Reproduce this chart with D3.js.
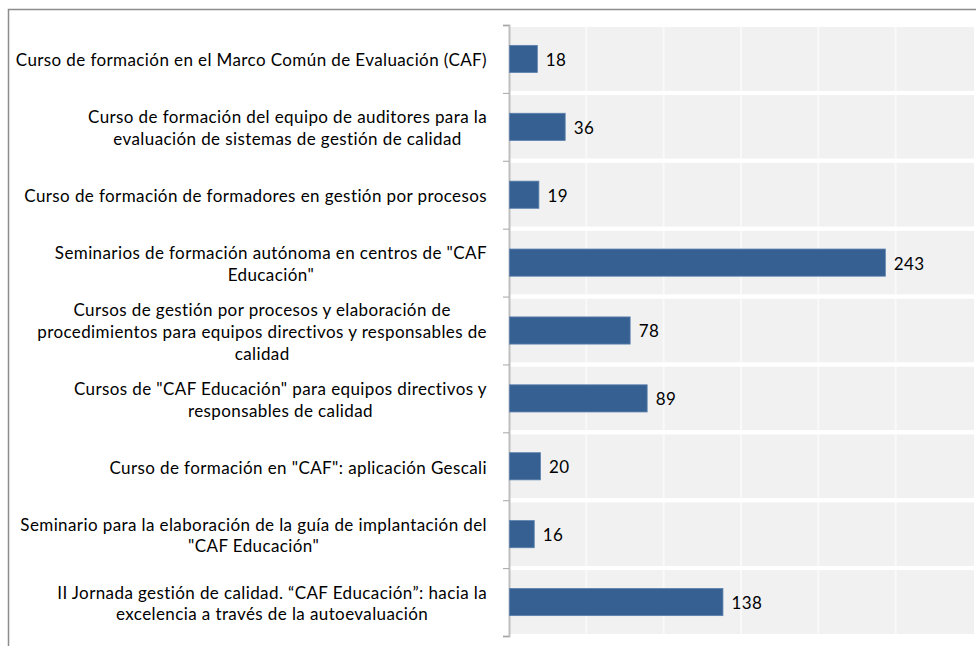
<!DOCTYPE html>
<html><head><meta charset="utf-8">
<script src="https://cdn.jsdelivr.net/npm/d3@7"></script>
<style>
html,body{margin:0;padding:0;background:#fff;}
svg{display:block;}
</style></head>
<body>
<svg id="chart" width="976" height="646"></svg>
<script>
const categories = [
  "Curso de formación en el Marco Común de Evaluación (CAF)",
  "Curso de formación del equipo de auditores para la\nevaluación de sistemas de gestión de calidad",
  "Curso de formación de formadores en gestión por procesos",
  "Seminarios de formación autónoma en centros de \"CAF\nEducación\"",
  "Cursos de gestión por procesos y elaboración de\nprocedimientos para equipos directivos y responsables de\ncalidad",
  "Cursos de \"CAF Educación\" para equipos directivos y\nresponsables de calidad",
  "Curso de formación en \"CAF\": aplicación Gescali",
  "Seminario para la elaboración de la guía de implantación del\n\"CAF Educación\"",
  "II Jornada gestión de calidad. “CAF Educación”: hacia la\nexcelencia a través de la autoevaluación"
];
const values = [18, 36, 19, 243, 78, 89, 20, 16, 138];
const xTicks = [0, 50, 100, 150, 200, 250, 300];

const svg = d3.select("#chart");
const FONT = "Lato, 'Open Sans', sans-serif";
const FS = 17;
const LS = 0.4;

// outer frame
svg.append("path").attr("d","M8.5,646 L8.5,9.5 L976,9.5")
  .attr("fill","none").attr("stroke","#8c8c8c").attr("stroke-width",1.5);

const x0 = 509, x1 = 973, yTop = 25, yBot = 636;
const x = d3.scaleLinear().domain([0, 300]).range([x0, x1]);
const y = d3.scaleBand().domain(d3.range(categories.length)).range([yTop, yBot]).padding(0);
const bw = y.bandwidth();

// band backgrounds
svg.append("g").selectAll("rect").data(categories).join("rect")
  .attr("x", x0).attr("width", x(300) - x0 + 1)
  .attr("y", (d,i) => y(i) + 2).attr("height", bw - 4)
  .attr("fill", "#f1f1f1");

// vertical gridlines
svg.append("g").selectAll("line").data(xTicks.slice(1, -1)).join("line")
  .attr("x1", d => x(d)).attr("x2", d => x(d))
  .attr("y1", yTop + 2).attr("y2", yBot - 2)
  .attr("stroke", "#f9f9f9").attr("stroke-width", 2);

// separators between bands (white)
svg.append("g").selectAll("line").data(d3.range(1, categories.length)).join("line")
  .attr("x1", x0).attr("x2", 976)
  .attr("y1", i => y(i)).attr("y2", i => y(i))
  .attr("stroke", "#ffffff").attr("stroke-width", 4);

// y axis line and ticks
const axis = d3.axisLeft(d3.scaleLinear().domain([0, categories.length]).range([yTop, yBot]))
  .ticks(categories.length).tickSize(6).tickFormat("");
const ag = svg.append("g").attr("transform", `translate(${x0},0)`).call(axis);
ag.select(".domain").attr("stroke", "#bfbfbf").attr("stroke-width", 2);
ag.selectAll(".tick line").attr("stroke", "#a6a6a6").attr("stroke-width", 1);

// bars
const barH = bw * 0.4;
svg.append("g").selectAll("rect").data(values).join("rect")
  .attr("x", x0 + 0.5)
  .attr("y", (d,i) => y(i) + bw/2 - barH/2)
  .attr("width", d => x(d) - x0)
  .attr("height", barH)
  .attr("fill", "#376092")
  .attr("stroke", "#5b80ad").attr("stroke-width", 0.8);

// value labels
svg.append("g").selectAll("text").data(values).join("text")
  .attr("x", d => x(d) + 9)
  .attr("y", (d,i) => y(i) + bw/2 + 1)
  .attr("dy", "0.35em")
  .attr("font-family", FONT).attr("font-size", FS).attr("letter-spacing", LS).attr("fill", "#000")
  .text(d => d);

// category labels (centered multi-line, right edge aligned)
const lh = 21.7;
const labG = svg.append("g");
categories.forEach((c, i) => {
  const lines = c.split("\n");
  const g = labG.append("g");
  const t = g.append("text").attr("font-family", FONT).attr("font-size", FS)
    .attr("letter-spacing", LS).attr("fill", "#000")
    .attr("text-anchor", "middle");
  const cy = y(i) + bw/2 + 1.5;
  lines.forEach((l, k) => {
    t.append("tspan").attr("x", 0)
      .attr("y", cy + (k - (lines.length - 1)/2) * lh)
      .attr("dy", "0.35em").text(l);
  });
  const w = t.node().getBBox().width;
  g.attr("transform", `translate(${487 - w/2},0)`);
});
</script>
</body></html>
